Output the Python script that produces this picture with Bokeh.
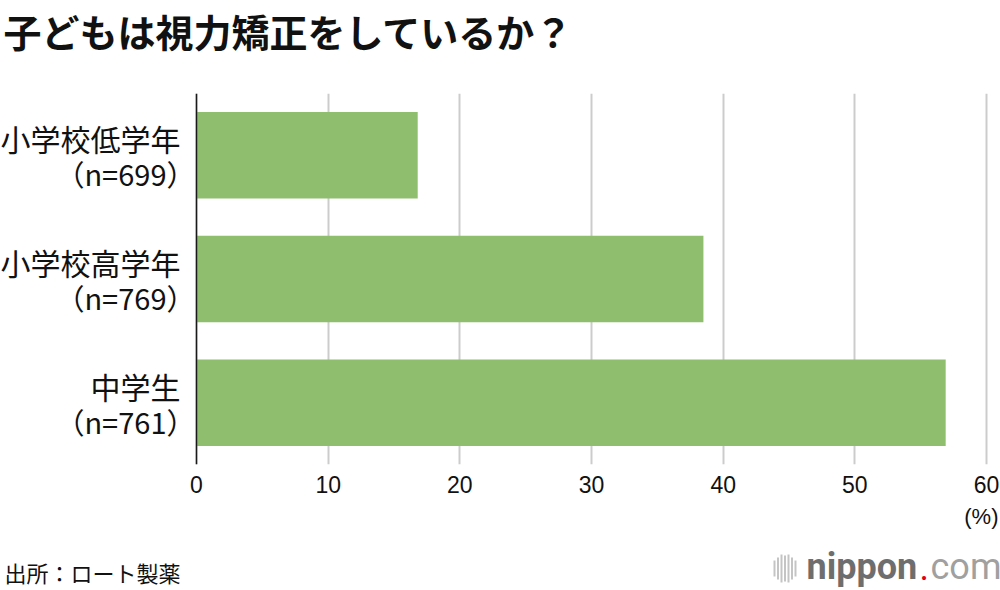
from bokeh.plotting import figure
from bokeh.layouts import column
from bokeh.models import Range1d, FactorRange, ColumnDataSource, FixedTicker, Span
from bokeh.core.properties import value
from bokeh.embed import file_html
from bokeh.resources import INLINE

title_text = "子どもは視力矯正をしているか？"
groups = ["小学校低学年", "小学校高学年", "中学生"]
sample_sizes = ["（n=699）", "（n=769）", "（n=761）"]
percent = [16.8, 38.5, 56.9]
x_ticks = [0, 10, 20, 30, 40, 50, 60]
unit_label = "(%)"
source_text = "出所：ロート製薬"

JP = "Noto Sans CJK JP"
W = 1000
HEAD_H, MAIN_H, FOOT_H = 93, 411, 86
AX_PX0, AX_PX60 = 196, 986          # pixel positions of 0 and 60 on the page
px_per_unit = (AX_PX60 - AX_PX0) / (x_ticks[-1] - x_ticks[0])


def blank(height):
    f = figure(width=W, height=height, x_range=Range1d(0, W), y_range=Range1d(height, 0),
               output_backend="svg", toolbar_location=None, min_border=0)
    f.axis.visible = False
    f.grid.visible = False
    f.outline_line_color = None
    f.background_fill_color = "white"
    f.border_fill_color = "white"
    return f


# header with title
head = blank(HEAD_H)
head.text(x=[3], y=[30], text=[title_text], text_font=value(JP), text_font_style="bold",
          text_font_size="38px", text_baseline="middle", text_color="#111111")

# main chart
main = figure(width=W, height=MAIN_H,
              x_range=Range1d(-AX_PX0 / px_per_unit, x_ticks[-1] + (W - AX_PX60) / px_per_unit),
              y_range=FactorRange(factors=groups[::-1]),
              output_backend="svg", toolbar_location=None,
              min_border_left=0, min_border_right=0, min_border_top=0, min_border_bottom=40)
main.outline_line_color = None
main.background_fill_color = "white"
main.border_fill_color = "white"

src = ColumnDataSource(dict(group=groups, pct=percent, n=sample_sizes))
main.hbar(y="group", left=0, right="pct", height=0.7, source=src,
          fill_color="#8fbe6e", line_color=None)

main.yaxis.visible = False
main.ygrid.grid_line_color = None
main.xgrid.ticker = FixedTicker(ticks=x_ticks)
main.xgrid.grid_line_color = "#cccccc"
main.xgrid.grid_line_width = 2

xa = main.xaxis[0]
xa.ticker = FixedTicker(ticks=x_ticks)
xa.axis_line_color = None
xa.major_tick_line_color = None
xa.minor_tick_line_color = None
xa.major_label_text_font = "Liberation Sans"
xa.major_label_text_font_size = "23px"
xa.major_label_text_color = "#111111"
xa.major_label_standoff = 5

main.add_layout(Span(location=0, dimension="height", line_color="#1a1a1a", line_width=1.5))

main.text(x=0, y="group", text="group", source=src, x_offset=-16, y_offset=-17,
          text_align="right", text_baseline="middle", text_font=value(JP),
          text_font_size="30px", text_color="#111111")
main.text(x=0, y="group", text="n", source=src, x_offset=-1, y_offset=18,
          text_align="right", text_baseline="middle", text_font=value(JP),
          text_font_size="29px", text_color="#111111")

# footer
foot = blank(FOOT_H)
foot.text(x=[998], y=[12], text=[unit_label], text_font=value("Liberation Sans"),
          text_font_size="22px", text_align="right", text_baseline="middle",
          text_color="#111111")
foot.text(x=[4], y=[67], text=[source_text], text_font=value(JP), text_font_size="22px",
          text_baseline="middle", text_color="#111111")

# nippon.com logo
icon_x = [774, 777.5, 781, 784.5, 788, 791.5, 795]
icon_h = [8, 11, 14, 13, 14, 11, 8]
foot.segment(x0=icon_x, y0=[64 - h for h in icon_h], x1=icon_x, y1=[64 + h for h in icon_h],
             line_color="#c4c4c4", line_width=2)
foot.text(x=[806], y=[62], text=["nippon"], text_font=value("Roboto"),
          text_font_style="bold", text_font_size="36px", text_baseline="middle",
          text_color="#6e6e6e")
foot.text(x=[919], y=[62], text=["."], text_font=value("Roboto"), text_font_size="36px",
          text_baseline="middle", text_color="#e60012")
foot.text(x=[930], y=[62], text=["com"], text_font=value("Roboto"), text_font_size="36px",
          text_baseline="middle", text_color="#a0a0a0")

layout = column(head, main, foot, spacing=0)
open("out.html", "w").write(file_html(layout, INLINE))
